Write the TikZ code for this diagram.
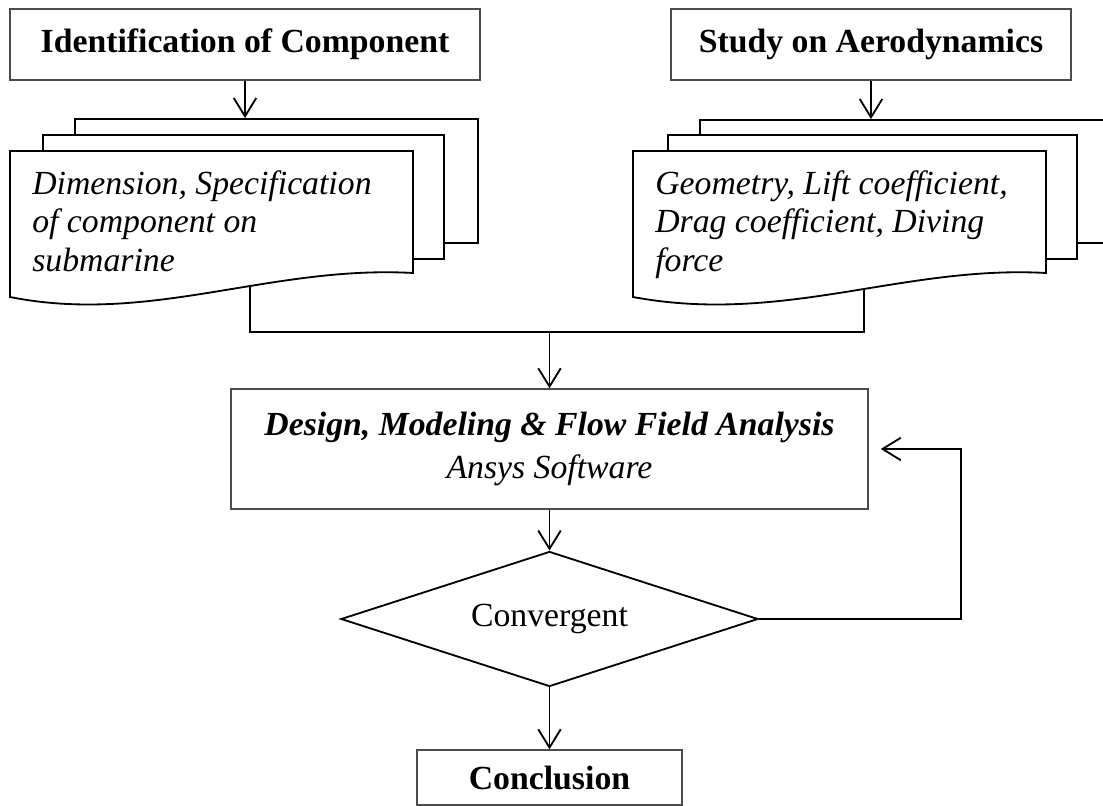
\documentclass[tikz,border=0pt]{standalone}
\usepackage{fontspec}
\setmainfont{Liberation Serif}
\usetikzlibrary{shapes.geometric,arrows.meta,positioning,calc}

\begin{document}
\begin{tikzpicture}[x=0.025cm, y=-0.025cm,
	box/.style={draw=black!70, line width=1pt, rectangle, fill=white, inner sep=0pt},
	page/.style={draw=black, line width=1.3pt, fill=white, rectangle, inner sep=0pt},
	wire/.style={draw=black, line width=1.3pt},
	flow/.style={wire, -{Straight Barb[length=13pt,width=16pt]}},
	bold/.style={font=\fontsize{24}{28}\selectfont\bfseries},
	pagetext/.style={anchor=north west, inner sep=0pt, align=left, font=\fontsize{24}{27.4}\selectfont\itshape}]
	\clip (0,0) rectangle (1103,806);

	% inputs
	\node[box, bold, minimum width=11.75cm, minimum height=1.775cm] (ident) at (245,44.5) {Identification of Component};
	\node[box, bold, minimum width=10cm, minimum height=1.775cm] (study) at (871,44.5) {Study on Aerodynamics};

	% left stack of pages
	\node[page, minimum width=10.075cm, minimum height=3.1cm] (dimback) at (276.5,181) {};
	\node[page, minimum width=10.025cm, minimum height=3.1cm] (dimmid) at (243.5,197) {};
	\draw[page] (10,151) -- (413,151) -- (413,273) .. controls (270,265) and (150,325) .. (10,297) coordinate[pos=.4] (dimout) -- cycle;
	\node[pagetext] (dim) at (32,170) {Dimension, Specification\\of component on\\submarine};

	% right stack of pages
	\node[page, minimum width=10.25cm, minimum height=3.075cm] (geoback) at (905,181.5) {};
	\node[page, minimum width=10.225cm, minimum height=3.1cm] (geomid) at (872.5,197) {};
	\draw[page] (633,151) -- (1046,151) -- (1046,273) .. controls (903,265) and (783,325) .. (633,297) coordinate[pos=.445] (geoout) -- cycle;
	\node[pagetext] (geo) at (655,170) {Geometry, Lift coefficient,\\Drag coefficient, Diving\\force};

	\draw[flow] (ident.south) -- (ident.south |- dimback.north);
	\draw[flow] (study.south) -- (study.south |- geoback.north);

	% analysis loop
	\coordinate (join) at (549.5,332);
	\node[box, minimum width=15.925cm, minimum height=3cm, align=center, font=\fontsize{24}{30.6}\selectfont] (design) at (549.5,449) {\textbf{\textit{Design, Modeling \& Flow Field Analysis}}\\\textit{Ansys Software}};
	\node[draw=black, line width=1.3pt, shape=diamond, aspect=3.09, inner sep=0pt, minimum width=10.425cm, minimum height=3.375cm, font=\fontsize{24}{28}\selectfont] (conv) at (549.5,619) {Convergent};
	\node[box, bold, minimum width=6.625cm, minimum height=1.375cm] (concl) at (549.5,777.5) {Conclusion};
	\coordinate (loop) at (961,449);

	\draw[wire] (dimout) |- (join -| geoout) -- (geoout);
	\draw[flow] (join) -- (design);
	\draw[flow] (design) -- (conv);
	\draw[flow] (conv) -- (concl);
	\draw[flow, shorten >=0.3cm] (conv.east) -| (loop) -- (design.east);
\end{tikzpicture}
\end{document}
